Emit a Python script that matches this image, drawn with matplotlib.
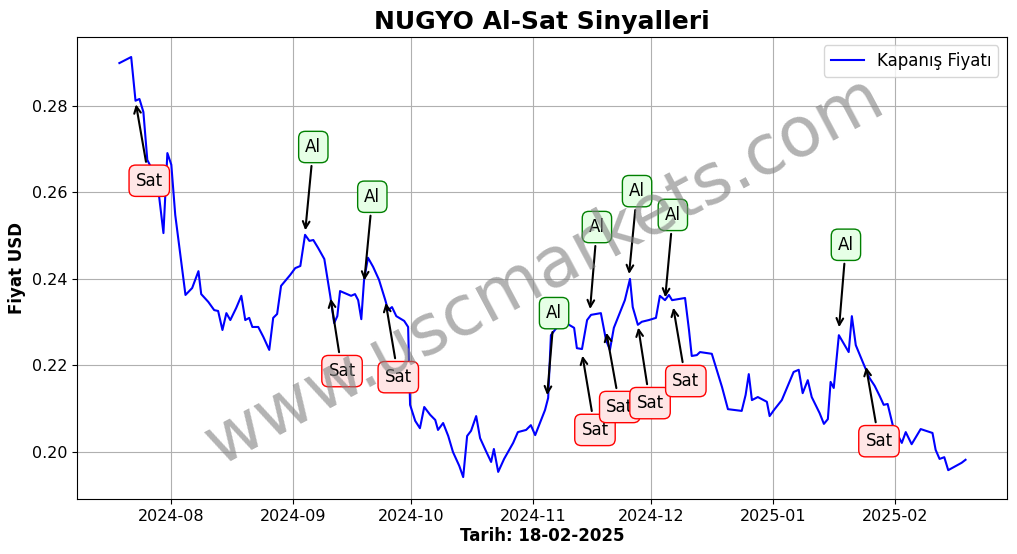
import numpy as np
import pandas as pd
import matplotlib
matplotlib.use("Agg")
import matplotlib.pyplot as plt

# ── data (days since 2024-08-01, close price) ──
start = pd.Timestamp("2024-08-01")
days = [-13.2, -10.2, -9.1, -8.1, -7.1, -6.1, -4.8, -3.3, -2, -1, 0, 1, 2.3, 3.6, 5.3, 6.9, 7.6, 9.4,
        10.9, 11.9, 13, 14, 15, 16.5, 17.8, 18.8, 19.8, 20.6, 22.1, 23.4, 24.9, 25.9, 26.9, 27.9,
        30.2, 31.5, 32.8, 34, 35.1, 36.1, 37.3, 38.9, 40.4, 41.4, 42.2, 42.9, 43.9, 45.7, 46.7,
        47.5, 48.3, 49, 50, 51.3, 52.8, 54.4, 55.1, 56.1, 57.2, 59.2, 60.2, 60.7, 62, 63.2, 64.3,
        65.8, 67.1, 67.8, 69.1, 70.4, 71.6, 73.2, 74.2, 75.2, 76.2, 77.5, 78.5, 80, 81.3, 82,
        83.1, 84.6, 86.9, 88.1, 89.4, 90.2, 91.4, 92.5, 95, 95.8, 96.5, 97.5, 99.3, 101.1, 102.4,
        103.1, 104.4, 105.7, 106.7, 109.2, 110.5, 111.5, 112.5, 113.5, 115.3, 116.6, 117.3,
        118.6, 119.6, 121.4, 123.2, 124.2, 125.5, 126.5, 127.3, 130.6, 131.6, 132.3, 133.6,
        134.4, 137.4, 140, 141.5, 145, 146, 146.8, 147.6, 149.1, 151.4, 152.1, 153.2, 155.2,
        158.2, 159.5, 160.5, 161.8, 162.8, 164.8, 165.9, 166.9, 167.6, 168.4, 169.7, 172.2,
        173, 174, 176, 177.5, 178.8, 180.1, 181.1, 182.1, 183.4, 185.7, 186.7, 188.2, 190.5,
        193.5, 194.3, 195.3, 196.5, 197.5, 200.9, 201.9]
prices = [0.2899, 0.2913, 0.2812, 0.2816, 0.2786, 0.2675, 0.2652, 0.2606, 0.2506, 0.2691, 0.2664,
          0.2548, 0.2455, 0.2363, 0.2379, 0.2418, 0.2365, 0.2347, 0.2328, 0.2326, 0.2282, 0.2321,
          0.2305, 0.2333, 0.2361, 0.2305, 0.2310, 0.2289, 0.2289, 0.2266, 0.2236, 0.2310, 0.2319,
          0.2384, 0.2409, 0.2425, 0.2430, 0.2502, 0.2488, 0.2490, 0.2472, 0.2446, 0.2361, 0.2298,
          0.2314, 0.2372, 0.2368, 0.2361, 0.2365, 0.2351, 0.2307, 0.2398, 0.2449, 0.2428, 0.2398,
          0.2351, 0.2328, 0.2335, 0.2314, 0.2303, 0.2289, 0.2109, 0.2072, 0.2055, 0.2104, 0.2086,
          0.2074, 0.2051, 0.2067, 0.2037, 0.2000, 0.1968, 0.1942, 0.2037, 0.2049, 0.2083, 0.2032,
          0.2002, 0.1977, 0.2007, 0.1954, 0.1984, 0.2021, 0.2046, 0.2049, 0.2051, 0.2062, 0.2039,
          0.2097, 0.2125, 0.2270, 0.2282, 0.2301, 0.2294, 0.2287, 0.2240, 0.2238, 0.2305, 0.2317,
          0.2321, 0.2259, 0.2236, 0.2287, 0.2310, 0.2351, 0.2400, 0.2335, 0.2294, 0.2301, 0.2305,
          0.2310, 0.2361, 0.2351, 0.2363, 0.2351, 0.2356, 0.2282, 0.2222, 0.2224, 0.2231, 0.2227,
          0.2150, 0.2099, 0.2095, 0.2132, 0.2180, 0.2120, 0.2127, 0.2116, 0.2083, 0.2097, 0.2120,
          0.2185, 0.2190, 0.2136, 0.2166, 0.2127, 0.2090, 0.2065, 0.2076, 0.2162, 0.2148, 0.2270,
          0.2231, 0.2314, 0.2247, 0.2203, 0.2171, 0.2153, 0.2129, 0.2109, 0.2111, 0.2062, 0.2021,
          0.2046, 0.2018, 0.2053, 0.2044, 0.2005, 0.1984, 0.1988, 0.1958, 0.1975, 0.1982]

# signals: (label, point day, point price, text day, text price)
sig_labels = ["Sat", "Al", "Sat", "Al", "Sat", "Al", "Sat", "Al", "Sat", "Al", "Sat", "Al", "Sat", "Al", "Sat"]
sig_day = [-9.1, 34, 40.4, 49, 54.4, 95.5, 104.4, 106.4, 110.5, 116.3, 118.6, 125.5, 127.5, 169.7, 176.5]
sig_price = [0.281, 0.2506, 0.2361, 0.239, 0.2351, 0.2125, 0.2229, 0.2324, 0.2282, 0.2405, 0.2294,
             0.2351, 0.234, 0.2282, 0.2203]
txt_day = [-5.6, 36.1, 43.4, 51.1, 57.7, 97.3, 107.7, 108.2, 114, 118.4, 121.7, 127.5, 130.8, 171.5, 179.9]
txt_price = [0.2627, 0.2705, 0.2187, 0.259, 0.2173, 0.2321, 0.2051, 0.252, 0.2104, 0.2603, 0.2113,
             0.2548, 0.2164, 0.2479, 0.2025]

to_date = lambda d: start + pd.to_timedelta(np.array(d) * 86400, unit="s")

fig, ax = plt.subplots(figsize=(10.17, 5.54), dpi=100)
fig.subplots_adjust(left=0.076, right=0.99, top=0.933, bottom=0.099)

ax.plot(to_date(days), prices, color="blue", linewidth=1.5, label="Kapanış Fiyatı")

for lab, d, p, td, tp in zip(sig_labels, sig_day, sig_price, txt_day, txt_price):
    green = lab == "Al"
    ax.annotate(
        lab,
        xy=(to_date([d])[0], p),
        xytext=(to_date([td])[0], tp),
        fontsize=12,
        ha="center",
        va="center",
        arrowprops=dict(arrowstyle="->", color="black", lw=1.5),
        bbox=dict(boxstyle="round,pad=0.4", fc="#e6ffe6" if green else "#ffe6e6",
                  ec="green" if green else "red"),
    )

fig.text(0.535, 0.51, "www.uscmarkets.com", fontsize=50, color="gray", alpha=0.6,
         rotation=28, ha="center", va="center")

ax.set_xlim(to_date([-23.9])[0], to_date([212.4])[0])
ax.set_ylim(0.1891, 0.2959)
ax.set_yticks([0.20, 0.22, 0.24, 0.26, 0.28])
ax.set_xticks(pd.date_range("2024-08-01", "2025-02-01", freq="MS"))
ax.xaxis.set_major_formatter(matplotlib.dates.DateFormatter("%Y-%m"))
ax.tick_params(labelsize=11.5)
ax.set_title("NUGYO Al-Sat Sinyalleri", fontsize=18, fontweight="bold")
ax.set_xlabel("Tarih: 18-02-2025", fontsize=12, fontweight="bold", labelpad=2)
ax.set_ylabel("Fiyat USD", fontsize=12, fontweight="bold")
ax.grid(True)
ax.legend(loc="upper right", fontsize=12)

plt.savefig("out.png", dpi=100)
